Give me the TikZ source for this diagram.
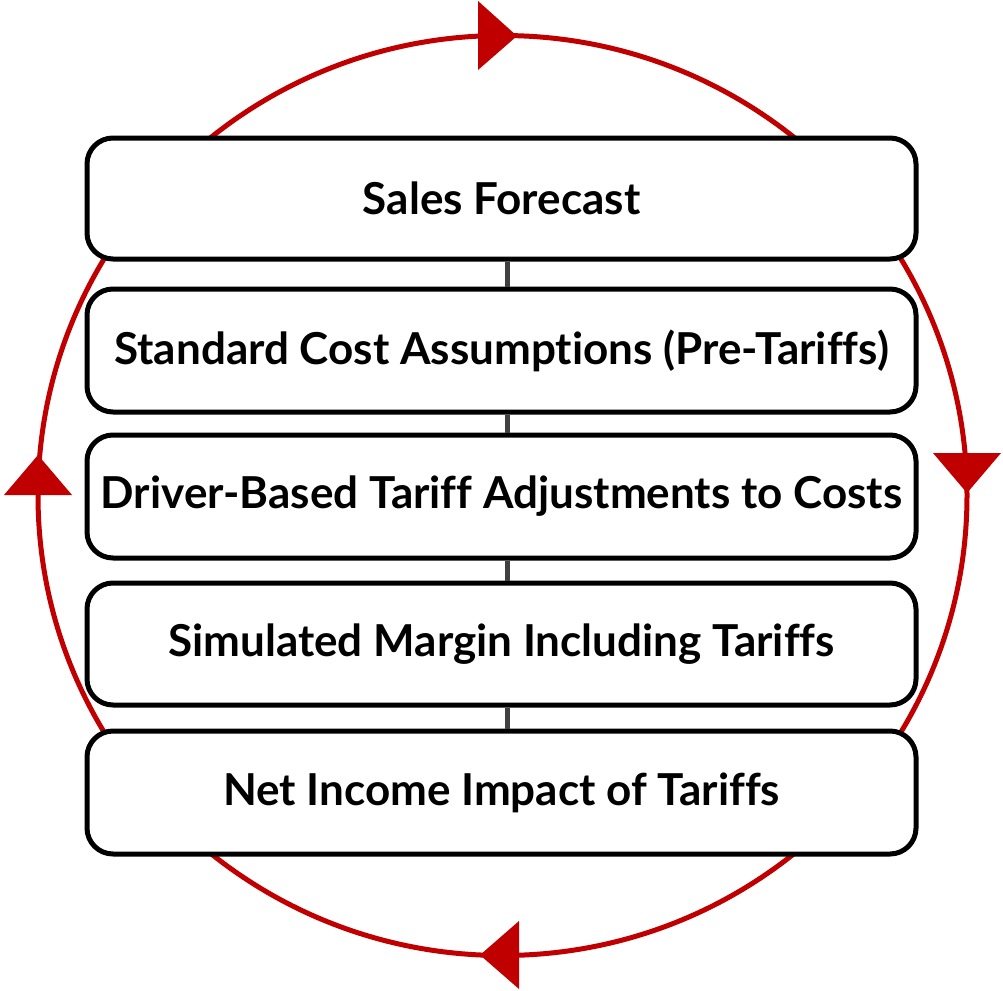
\documentclass[tikz,border=0pt]{standalone}
\usepackage{fontspec}
\setmainfont{Lato}[Ligatures={NoCommon}]
\definecolor{cyclered}{HTML}{C00000}
\definecolor{linkgray}{HTML}{404040}
\begin{document}
\begin{tikzpicture}[x=1pt,y=-1pt,
  stagebox/.style={draw=black, line width=5pt, fill=white, rounded corners=26pt,
    minimum width=829pt, minimum height=122pt, inner sep=0pt, outer sep=0pt,
    font=\fontsize{44}{52}\selectfont\bfseries, text=black},
  link/.style={draw=linkgray, line width=5.5pt},
  cycle/.style={draw=cyclered, line width=5pt},
  tipfill/.style={fill=cyclered}]
\useasboundingbox (0,0) rectangle (1003,990);
% cycle ellipse
\draw[cycle] (502.5,495.5) ellipse [x radius=464.5pt, y radius=460pt];
% arrowheads
\fill[tipfill] (478,1) -- (517,36) -- (478,70) -- cycle;
\fill[tipfill] (933,453) -- (967,493) -- (1001,453) -- cycle;
\fill[tipfill] (519,921) -- (480,955) -- (519,989) -- cycle;
\fill[tipfill] (4,495) -- (38,455) -- (72,495) -- cycle;
% boxes
\node[stagebox, minimum height=121pt] (s1) at (501.5,198.5) {Sales Forecast};
\node[stagebox, minimum height=123pt] (s2) at (501.5,350.5) {Standard Cost Assumptions (Pre-Tariffs)};
\node[stagebox, minimum height=123pt] (s3) at (501.5,496.5) {Driver-Based Tariff Adjustments to Costs};
\node[stagebox, minimum height=122pt] (s4) at (501.5,644) {Simulated Margin Including Tariffs};
\node[stagebox, minimum height=123pt] (s5) at (501.5,792.5) {Net Income Impact of Tariffs};
% connectors
\draw[link] ([xshift=6pt,yshift=-2.5pt]s1.south) -- ([xshift=6pt,yshift=2.5pt]s2.north);
\draw[link] ([xshift=6pt,yshift=-2.5pt]s2.south) -- ([xshift=6pt,yshift=2.5pt]s3.north);
\draw[link] ([xshift=6pt,yshift=-2.5pt]s3.south) -- ([xshift=6pt,yshift=2.5pt]s4.north);
\draw[link] ([xshift=6pt,yshift=-2.5pt]s4.south) -- ([xshift=6pt,yshift=2.5pt]s5.north);
\end{tikzpicture}
\end{document}
